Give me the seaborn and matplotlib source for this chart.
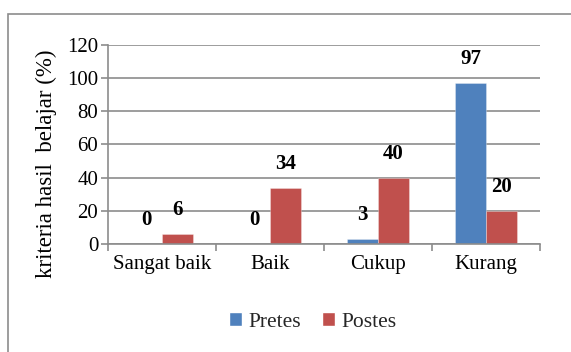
import matplotlib
matplotlib.use("Agg")
import matplotlib.pyplot as plt
import seaborn as sns
import pandas as pd
from matplotlib.patches import Rectangle

categories = ["Sangat baik", "Baik", "Cukup", "Kurang"]
pretes = [0, 0, 3, 97]
postes = [6, 34, 40, 20]
series_names = ["Pretes", "Postes"]
y_ticks = [0, 20, 40, 60, 80, 100, 120]

df = pd.DataFrame({
    "kategori": categories * 2,
    "nilai": pretes + postes,
    "tes": [series_names[0]] * len(categories) + [series_names[1]] * len(categories),
})

sns.set_theme(style="white")
plt.rcParams["font.family"] = ["Liberation Serif", "DejaVu Serif"]

fig = plt.figure(figsize=(5.71, 3.52), dpi=100)
ax = fig.add_axes([0.189, 0.307, 0.757, 0.565])

sns.barplot(data=df, x="kategori", y="nilai", hue="tes",
            palette=["#4F81BD", "#C0504D"], width=0.575, gap=0,
            saturation=1, ax=ax, legend=True)

for c in ax.containers:
    for p in c:
        p.set_edgecolor((1, 1, 1, 0.35))
        p.set_linewidth(0.6)
    ax.bar_label(c, fmt="%g", padding=10, fontsize=15, fontweight="bold",
                 color="black")

ax.set_ylim(0, 120)
ax.set_yticks(y_ticks)
ax.set_xlim(-0.5, len(categories) - 0.5)
ax.yaxis.grid(True, color="#8c8c8c", linewidth=1.2)
ax.set_axisbelow(True)
for s in ["top", "right"]:
    ax.spines[s].set_visible(False)
for s in ["left", "bottom"]:
    ax.spines[s].set_color("#8c8c8c")
    ax.spines[s].set_linewidth(1.2)

ax.tick_params(axis="y", which="major", left=True, length=5, width=1.2,
               color="#8c8c8c", labelsize=15, pad=2, labelcolor="black")
ax.set_xticks(range(len(categories)))
ax.set_xticks([i - 0.5 for i in range(len(categories) + 1)], minor=True)
ax.tick_params(axis="x", which="major", length=0, labelsize=15, pad=8,
               labelcolor="black")
ax.tick_params(axis="x", which="minor", bottom=True, length=5, width=1.2,
               color="#8c8c8c")

ax.set_xlabel("")
ax.set_ylabel("kriteria hasil  belajar (%)", fontsize=16.5, color="black")
ax.yaxis.set_label_coords(-0.118, 0.405)

handles, labels = ax.get_legend_handles_labels()
ax.legend_.remove()
fig.legend(handles, labels, loc="center", bbox_to_anchor=(0.548, 0.085),
           ncol=2, frameon=False, fontsize=15.5, handlelength=0.6,
           handleheight=0.6, handletextpad=0.3, columnspacing=1.0)

fig.patches.append(Rectangle((8 / 571, -0.1), 1.2, 1.1 - 14 / 352,
                             transform=fig.transFigure, fill=False,
                             edgecolor="#8c8c8c", linewidth=1.2))

fig.savefig("out.png", dpi=100, facecolor="white")
